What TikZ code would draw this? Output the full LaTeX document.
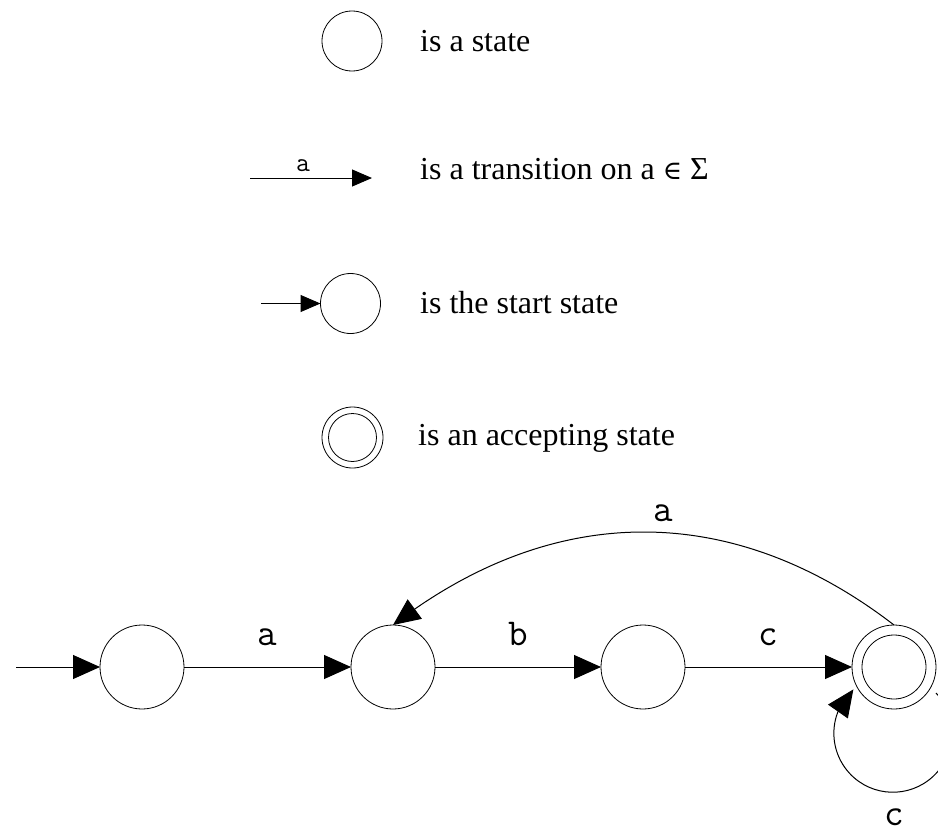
\documentclass[tikz,border=0pt]{standalone}
\usepackage{fontspec}
\setmainfont{Liberation Serif}
\newfontfamily\symf{DejaVu Serif}
\usetikzlibrary{arrows.meta,bending}
\tikzset{
  x=1pt, y=1pt,
  state/.style={circle, draw, line width=0.8pt, minimum size=84pt, inner sep=0pt, outer sep=0pt},
  lstate/.style={circle, draw, line width=0.8pt, minimum size=60pt, inner sep=0pt, outer sep=0pt},
  bigarr/.style={line width=1pt, -{Triangle[length=27pt,width=24pt]}},
  smallarr/.style={line width=1pt, -{Triangle[length=20pt,width=17pt]}},
  legtxt/.style={anchor=base west, inner sep=0pt, font=\fontsize{32}{38}\selectfont},
  lbl/.style={anchor=base, inner sep=0pt, font=\ttfamily\fontsize{38}{44}\selectfont},
  slbl/.style={anchor=base, inner sep=0pt, font=\ttfamily\fontsize{27}{32}\selectfont}
}
\begin{document}
\begin{tikzpicture}
\clip (0,0) rectangle (938,-835);
% legend
\node[lstate] (l1) at (352,-41) {};
\node[legtxt] (t1) at (420,-51) {is a state};
\coordinate (la1) at (250,-178);
\coordinate (la2) at (372,-178);
\draw[smallarr] (la1) -- node[slbl, midway, yshift=7pt, xshift=-8pt] (la) {a} (la2);
\node[legtxt] (t2) at (420,-179) {is a transition on a {\symf\fontsize{26}{30}\selectfont ∈} Σ};
\node[lstate] (l3) at (350.5,-303.5) {};
\coordinate (ls0) at (261,-303.5);
\draw[smallarr] (ls0) -- (l3);
\node[legtxt] (t3) at (420,-313) {is the start state};
\node[lstate, minimum size=61pt] (l4) at (352.5,-437.5) {};
\node[circle, draw, line width=0.8pt, minimum size=48pt, inner sep=0pt] (l4i) at (l4) {};
\node[legtxt] (t4) at (418,-445) {is an accepting state};
% automaton
\coordinate (st0) at (16,-667);
\node[state] (s1) at (142,-667) {};
\node[state] (s2) at (393,-667) {};
\node[state] (s3) at (643,-667) {};
\node[state] (acc) at (894,-667) {};
\node[circle, draw, line width=0.8pt, minimum size=64pt, inner sep=0pt] (acci) at (acc) {};
\draw[bigarr] (st0) -- (s1);
\draw[bigarr] (s1) -- node[lbl, midway, yshift=22pt] (e1) {a} (s2);
\draw[bigarr] (s2) -- node[lbl, midway, yshift=22pt] (e2) {b} (s3);
\draw[bigarr] (s3) -- node[lbl, midway, yshift=22pt] (e3) {c} (acc);
\draw[bigarr] (acc.north) .. controls (733,-501) and (554,-501) .. node[lbl, pos=0.5, yshift=11pt, xshift=20pt] (e4) {a} (s2.north);
\draw[bigarr] ([shift={(42pt,-26pt)}]acc.center) arc[start angle=43, end angle=-228, radius=59pt];
\node[lbl] (e5) at ([yshift=-158pt]acc.center) {c};
\end{tikzpicture}
\end{document}
